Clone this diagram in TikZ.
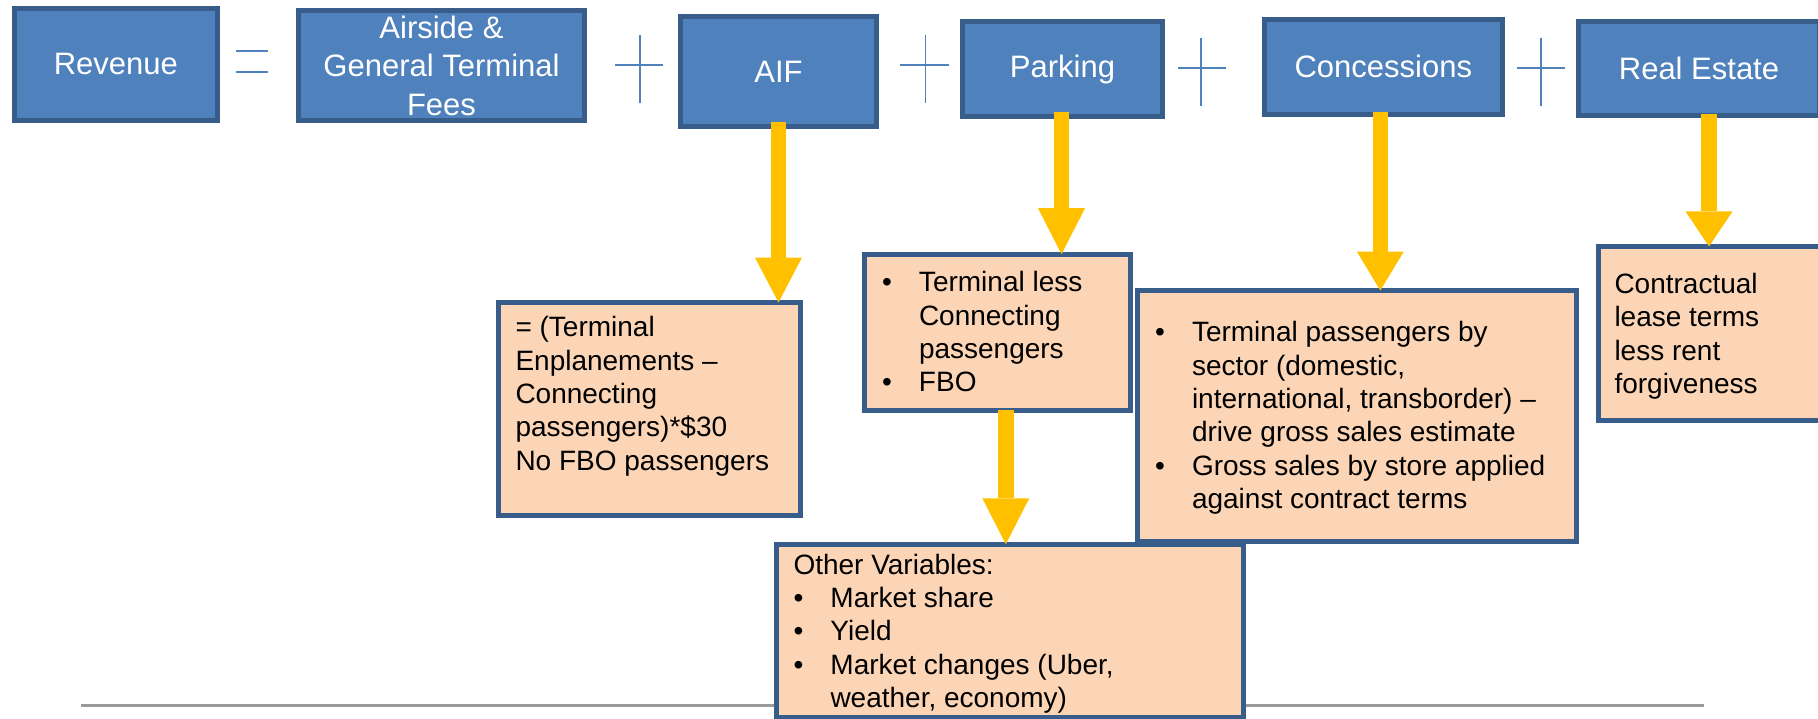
\documentclass[tikz,border=0pt]{standalone}
\usepackage{fontspec}
\setmainfont{Liberation Sans}
\usetikzlibrary{arrows.meta}
\definecolor{boxblue}{HTML}{4F81BD}
\definecolor{boxedge}{HTML}{385D8A}
\definecolor{peach}{HTML}{FBD5B5}
\definecolor{arrowyellow}{HTML}{FFC000}
\definecolor{rulegray}{HTML}{9A9A9A}
\newcommand{\bulx}[1]{\makebox[#1][l]{•}}
\newcommand{\indx}[1]{\hspace*{#1}}
\newcommand{\topstrut}{\vrule height 22pt depth 0pt width 0pt}
\begin{document}
\begin{tikzpicture}[x=1pt,y=-1pt,
  topbox/.style={draw=boxedge, fill=boxblue, line width=5pt, inner sep=0pt, outer sep=0pt,
    text=white, font=\fontsize{31}{38.4}\selectfont, align=center},
  notebox/.style={draw=boxedge, fill=peach, line width=5pt, inner sep=0pt, outer sep=0pt},
  notetext/.style={anchor=north west, inner sep=0pt, outer sep=0pt, align=left,
    font=\fontsize{28}{33.4}\selectfont},
  yarrow/.style={draw=arrowyellow, line width=15.5pt,
    -{Triangle[width=47pt,length=#1,line width=0pt]}},
  yarrow/.default=45pt,
  opsign/.style={draw=boxblue, line width=1.8pt},
  baseline rule/.style={draw=rulegray, line width=3pt},
]
\useasboundingbox (0,0) rectangle (1818,718);

% bottom rule
\draw[baseline rule] (81,705) -- (1704,705);

% operator signs
\draw[opsign] (236,51) -- (268,51);
\draw[opsign] (236,71.7) -- (268,71.7);
\draw[opsign] (615,65.3) -- (663,65.3);
\draw[opsign] (639.6,35) -- (639.6,103);
\draw[opsign] (900,65.3) -- (949,65.3);
\draw[opsign] (925.4,35) -- (925.4,103);
\draw[opsign] (1178,68.3) -- (1225.5,68.3);
\draw[opsign] (1201,38.3) -- (1201,105.7);
\draw[opsign] (1517.4,68.3) -- (1565,68.3);
\draw[opsign] (1540.6,38) -- (1540.6,106);

% top boxes
\node[topbox, minimum width=203pt, minimum height=112pt] (rev) at (115.8,64.4) {Revenue};
\node[topbox, minimum width=286pt, minimum height=110pt] (air) at (441.5,65.8) {Airside \&\\General Terminal\\Fees};
\node[topbox, minimum width=196pt, minimum height=110pt] (aif) at (778.5,71.8) {AIF};
\node[topbox, minimum width=200pt, minimum height=95pt] (park) at (1062.5,69) {Parking};
\node[topbox, minimum width=237.6pt, minimum height=95pt] (conc) at (1383.3,66.7) {Concessions};
\node[topbox, minimum width=241pt, minimum height=94.3pt] (re) at (1699,68.7) {Real Estate};

% note boxes
\node[notebox, minimum width=302.3pt, minimum height=213pt] (aiftxt) at (649.3,409) {};
\node[notebox, minimum width=266pt, minimum height=156.6pt] (ptxt) at (997.8,332.5) {};
\node[notebox, minimum width=439pt, minimum height=251pt] (ctxt) at (1356.5,416) {};
\node[notebox, minimum width=226.5pt, minimum height=174.3pt] (retxt) at (1711.7,333.6) {};
\node[notebox, minimum width=467.3pt, minimum height=173.5pt] (otxt) at (1009.8,631) {};

% note texts
\node[notetext] (aiftxtlabel) at (515.5,314.7)
  {\topstrut= (Terminal\\Enplanements –\\Connecting\\passengers)*\$30\\No FBO passengers};
\node[notetext] (ptxtlabel) at (882,269.7)
  {\topstrut\bulx{37pt}Terminal less\\\indx{37pt}Connecting\\\indx{37pt}passengers\\\bulx{37pt}FBO};
\node[notetext] (ctxtlabel) at (1155,319.7)
  {\topstrut\bulx{37pt}Terminal passengers by\\\indx{37pt}sector (domestic,\\\indx{37pt}international, transborder) –\\\indx{37pt}drive gross sales estimate\\\bulx{37pt}Gross sales by store applied\\\indx{37pt}against contract terms};
\node[notetext] (retxtlabel) at (1614.5,271.3)
  {\topstrut Contractual\\lease terms\\less rent\\forgiveness};
\node[notetext] (otxtlabel) at (793.5,552)
  {\topstrut Other Variables:\\\bulx{37pt}Market share\\\bulx{37pt}Yield\\\bulx{37pt}Market changes (Uber,\\\indx{37pt}weather, economy)};

% arrows
\coordinate (aifA) at ([yshift=5pt]aif.south);
\draw[yarrow=45pt] (aifA) -- (aifA |- aiftxt.north);
\coordinate (parkA) at ([xshift=-1pt,yshift=5pt]park.south);
\draw[yarrow=46pt] (parkA) -- (parkA |- ptxt.north);
\coordinate (concA) at ([xshift=-3pt,yshift=2pt]conc.south);
\draw[yarrow=39pt] (concA) -- (concA |- ctxt.north);
\coordinate (reA) at ([xshift=10pt,yshift=2pt]re.south);
\draw[yarrow=35pt] (reA) -- (reA |- retxt.north);
\coordinate (ptxtA) at ([xshift=8pt,yshift=1pt]ptxt.south);
\draw[yarrow=46pt] (ptxtA) -- (ptxtA |- otxt.north);
\end{tikzpicture}
\end{document}
